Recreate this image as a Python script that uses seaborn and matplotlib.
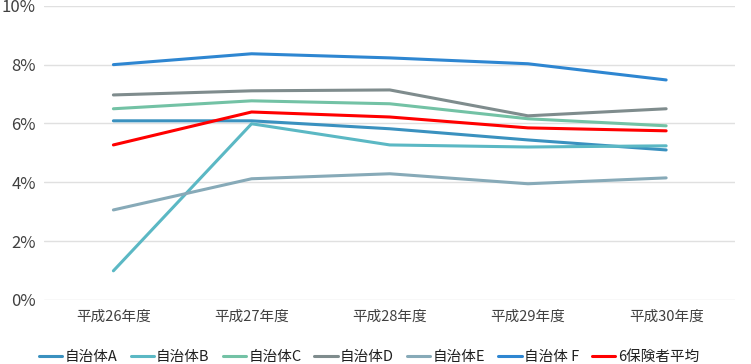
import pandas as pd
import seaborn as sns
import matplotlib.pyplot as plt
from matplotlib.ticker import PercentFormatter

years = ["平成26年度", "平成27年度", "平成28年度", "平成29年度", "平成30年度"]
names = ["自治体A", "自治体B", "自治体C", "自治体D", "自治体E", "自治体 F", "6保険者平均"]
val_a = [6.09, 6.09, 5.82, 5.44, 5.10]
val_b = [0.99, 5.99, 5.27, 5.20, 5.24]
val_c = [6.50, 6.77, 6.67, 6.16, 5.92]
val_d = [6.97, 7.11, 7.14, 6.26, 6.50]
val_e = [3.06, 4.12, 4.29, 3.95, 4.15]
val_f = [8.00, 8.37, 8.23, 8.03, 7.48]
val_avg = [5.27, 6.39, 6.22, 5.85, 5.75]
colors = ["#3a91bf", "#5bb8c4", "#73c2a5", "#7f8c8d", "#87aab8", "#2e86d1", "#ff0000"]

series = [val_a, val_b, val_c, val_d, val_e, val_f, val_avg]
rows = []
for n, vals in zip(names, series):
    for i, (y, v) in enumerate(zip(years, vals)):
        rows.append({"year": y, "pos": i, "name": n, "value": v})
df = pd.DataFrame(rows)

sns.set_style("white")
plt.rcParams["font.family"] = ["Noto Sans CJK JP", "DejaVu Sans"]

fig, ax = plt.subplots(figsize=(7.51, 3.64), dpi=100)
fig.subplots_adjust(left=0.059, right=0.979, top=0.984, bottom=0.176)
sns.lineplot(data=df, x="pos", y="value", hue="name", hue_order=names,
             palette=colors, linewidth=2.2, ax=ax, sort=False)

ax.set_xlim(-0.5, 4.5)
ax.set_ylim(0, 10)
ax.set_xticks(range(len(years)))
ax.set_xticklabels(years, fontsize=10.5, color="#404040")
ax.set_yticks([0, 2, 4, 6, 8, 10])
ax.yaxis.set_major_formatter(PercentFormatter(decimals=0))
ax.tick_params(axis="y", labelsize=12, colors="#404040", length=0, pad=6)
ax.tick_params(axis="x", length=0, pad=7)
ax.grid(axis="y", color="#e0e0e0", linewidth=1)
ax.set_axisbelow(True)
for s in ax.spines.values():
    s.set_visible(False)
ax.set_xlabel("")
ax.set_ylabel("")

leg = ax.legend(loc="upper center", bbox_to_anchor=(0.47, -0.125), ncol=7, frameon=False,
                fontsize=10.5, handlelength=1.6, handletextpad=0.15, columnspacing=0.9)
for t in leg.get_texts():
    t.set_color("#202020")

fig.savefig("out.png", dpi=100)
